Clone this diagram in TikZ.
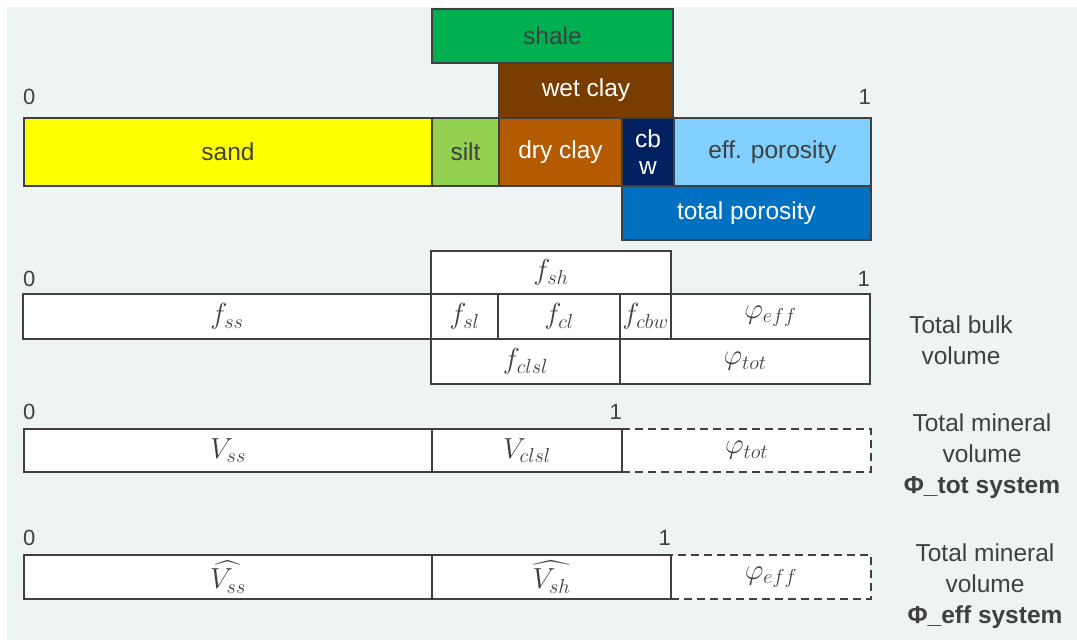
\RequirePackage{fix-cm}
\documentclass[tikz,border=0pt]{standalone}
\usepackage{amsmath}
\usepackage[no-math]{fontspec}
\setmainfont{Liberation Sans}
\definecolor{bgc}{HTML}{EEF3F3}
\definecolor{lc}{HTML}{404040}
\definecolor{tc}{HTML}{404040}
\definecolor{sandc}{HTML}{FFFF00}
\definecolor{siltc}{HTML}{92D050}
\definecolor{dryc}{HTML}{B45A00}
\definecolor{wetc}{HTML}{7A3D00}
\definecolor{cbwc}{HTML}{002060}
\definecolor{effc}{HTML}{80CFFF}
\definecolor{totc}{HTML}{0070C0}
\definecolor{shalec}{HTML}{00B050}
\newcommand\txtfont{\fontsize{24.5}{27}\selectfont}
\newcommand\tickfont{\fontsize{22}{26}\selectfont}
\newcommand\mfont{\fontsize{29}{32}\selectfont}
\newcommand\sidefont{\fontsize{24.5}{31}\selectfont}
\tikzset{
  cell/.style={draw=lc, line width=2pt, rectangle, inner sep=0pt, anchor=north west, text=tc, font=\txtfont},
  wcell/.style={cell, text=white},
  mcell/.style={cell, fill=white, font=\mfont},
  dcell/.style={mcell, dash pattern=on 8pt off 5pt},
  tick/.style={text=tc, font=\tickfont, inner sep=0pt},
  side/.style={text=tc, font=\sidefont, align=center, inner sep=0pt}
}
\begin{document}
\begin{tikzpicture}[x=1pt,y=-1pt]
\useasboundingbox (0,0) rectangle (1077,640);
\fill[white] (0,0) rectangle (1077,640);
\fill[bgc] (7,7) rectangle (1077,640);

% Group 1: coloured bars
\node[cell, fill=shalec, minimum width=241pt, minimum height=54pt] (shale) at (431,8) {shale};
\node[wcell, fill=wetc, minimum width=174pt, minimum height=55pt] (wet) at (498,62) {wet clay};
\node[cell, fill=sandc, minimum width=408pt, minimum height=68pt] (sand) at (23,117) {sand};
\node[cell, fill=siltc, minimum width=67pt, minimum height=68pt] (silt) at (431,117) {silt};
\node[wcell, fill=dryc, minimum width=123pt, minimum height=68pt] (dry) at (498,117) {dry clay};
\node[wcell, fill=cbwc, minimum width=52pt, minimum height=68pt, align=center] (cbw) at (621,117) {cb\\w};
\node[cell, fill=effc, minimum width=197pt, minimum height=68pt] (eff) at (673,117) {eff. porosity};
\node[wcell, fill=totc, minimum width=249pt, minimum height=54pt] (tot) at (621,185) {total porosity};
\node[tick, anchor=base west] (z1) at (23,104) {0};
\node[tick, anchor=base east] (o1) at (871,104) {1};

% Group 2: total bulk volume
\node[mcell, minimum width=240pt, minimum height=43pt] (fsh) at (430,250) {$f_{sh}$};
\node[mcell, minimum width=408pt, minimum height=45pt] (fss) at (22,293) {$f_{ss}$};
\node[mcell, minimum width=67pt, minimum height=45pt] (fsl) at (430,293) {$f_{sl}$};
\node[mcell, minimum width=122pt, minimum height=45pt] (fcl) at (497,293) {$f_{cl}$};
\node[mcell, minimum width=51pt, minimum height=45pt] (fcbw) at (619,293) {$f_{cbw}$};
\node[mcell, minimum width=199pt, minimum height=45pt] (feff) at (670,293) {$\varphi_{eff}$};
\node[mcell, minimum width=189pt, minimum height=45pt] (fclsl) at (430,338) {$f_{clsl}$};
\node[mcell, minimum width=250pt, minimum height=45pt] (ftot) at (619,338) {$\varphi_{tot}$};
\node[tick, anchor=base west] (z2) at (23,286) {0};
\node[tick, anchor=base east] (o2) at (870,286) {1};
\node[side] (lab2) at (961,340) {Total bulk\\volume};

% Group 3: total mineral volume, phi_tot system
\node[dcell, minimum width=249pt, minimum height=43pt] (vtot) at (621,428) {$\varphi_{tot}$};
\node[mcell, minimum width=408pt, minimum height=43pt] (vss) at (23,428) {$V_{ss}$};
\node[mcell, minimum width=190pt, minimum height=43pt] (vclsl) at (431,428) {$V_{clsl}$};
\node[tick, anchor=base west] (z3) at (23,419) {0};
\node[tick, anchor=base east] (o3) at (622,419) {1};
\node[side] (lab3) at (982,456) {Total mineral\\volume\\\textbf{Φ\_tot system}};

% Group 4: total mineral volume, phi_eff system
\node[dcell, minimum width=200pt, minimum height=44pt] (veff) at (670,554) {$\varphi_{eff}$};
\node[mcell, minimum width=408pt, minimum height=44pt] (hvss) at (23,554) {$\widehat{V_{ss}}$};
\node[mcell, minimum width=239pt, minimum height=44pt] (hvsh) at (431,554) {$\widehat{V_{sh}}$};
\node[tick, anchor=base west] (z4) at (23,545) {0};
\node[tick, anchor=base east] (o4) at (671,545) {1};
\node[side] (lab4) at (985,586) {Total mineral\\volume\\\textbf{Φ\_eff system}};
\end{tikzpicture}
\end{document}
